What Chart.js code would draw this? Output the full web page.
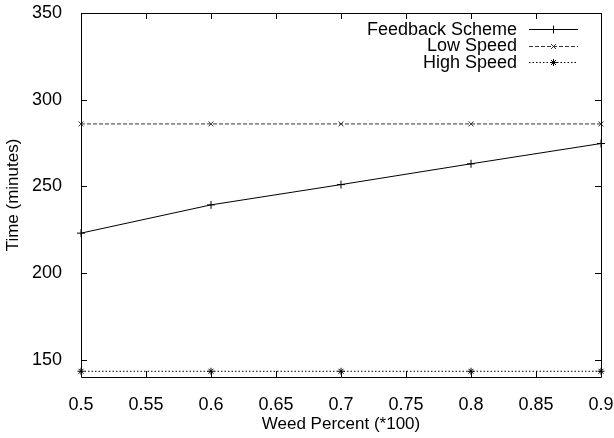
<!DOCTYPE html>
<html>
<head>
<meta charset="utf-8">
<script src="https://cdn.jsdelivr.net/npm/chart.js@4"></script>
<style>
  body { margin: 0; background: #fff; }
  canvas { display: block; }
</style>
</head>
<body>
<canvas id="chart" width="614" height="438"></canvas>
<script>
// values
const weedPercent = [0.5, 0.6, 0.7, 0.8, 0.9];
const feedbackScheme = [223, 239.3, 251, 263, 274.7];
const lowSpeed = [286, 286, 286, 286, 286];
const highSpeed = [143.3, 143.3, 143.3, 143.3, 143.3];
const xTicks = [0.5, 0.55, 0.6, 0.65, 0.7, 0.75, 0.8, 0.85, 0.9];
const yTicks = [150, 200, 250, 300, 350];

const FONT = "'Liberation Sans', Arial, Helvetica, sans-serif";

const toPoints = ys => ys.map((y, i) => ({ x: weedPercent[i], y: y }));

// gnuplot-like frame: inward ticks on all four sides
const framePlugin = {
    id: "frame",
    afterDraw(chart) {
        const ctx = chart.ctx;
        const a = chart.chartArea;
        const xs = chart.scales.x, ys = chart.scales.y;
        const len = 6;
        ctx.save();
        ctx.strokeStyle = "#000";
        ctx.lineWidth = 1;
        ctx.beginPath();
        ctx.rect(a.left + 0.5, a.top + 0.5, a.right - a.left, a.bottom - a.top);
        xs.ticks.forEach(t => {
            const px = Math.round(xs.getPixelForValue(t.value)) + 0.5;
            ctx.moveTo(px, a.bottom); ctx.lineTo(px, a.bottom - len);
            ctx.moveTo(px, a.top); ctx.lineTo(px, a.top + len);
        });
        ys.ticks.forEach(t => {
            const py = Math.round(ys.getPixelForValue(t.value)) + 0.5;
            ctx.moveTo(a.left, py); ctx.lineTo(a.left + len, py);
            ctx.moveTo(a.right, py); ctx.lineTo(a.right - len, py);
        });
        ctx.stroke();
        ctx.restore();
    }
};

// key in the top right corner, text right-aligned before the sample
const keyPlugin = {
    id: "key",
    afterDraw(chart) {
        const ctx = chart.ctx;
        const a = chart.chartArea;
        const textRight = a.right - 84;
        const sx0 = a.right - 72, sx1 = a.right - 23;
        ctx.save();
        ctx.font = "18px " + FONT;
        ctx.textAlign = "right";
        ctx.textBaseline = "middle";
        chart.data.datasets.forEach((ds, i) => {
            const y = a.top + 16 + i * 16.5;
            ctx.fillStyle = "#000";
            ctx.fillText(ds.label, textRight, y + 1);
            ctx.strokeStyle = ds.borderColor;
            ctx.lineWidth = 1;
            ctx.setLineDash(ds.borderDash || []);
            ctx.beginPath();
            ctx.moveTo(sx0, Math.round(y) + 0.5);
            ctx.lineTo(sx1, Math.round(y) + 0.5);
            ctx.stroke();
            ctx.setLineDash([]);
            Chart.helpers.drawPoint(ctx, {
                pointStyle: ds.pointStyle,
                radius: ds.pointRadius,
                borderWidth: 1
            }, (sx0 + sx1) / 2, Math.round(y) + 0.5);
        });
        ctx.restore();
    }
};

new Chart(document.getElementById("chart").getContext("2d"), {
    type: "line",
    data: {
        datasets: [
            {
                label: "Feedback Scheme",
                data: toPoints(feedbackScheme),
                borderColor: "#000",
                backgroundColor: "#000",
                borderWidth: 1,
                pointStyle: "cross",
                pointRadius: 4,
                pointBorderWidth: 1,
                clip: false,
            },
            {
                label: "Low Speed",
                data: toPoints(lowSpeed),
                borderColor: "#333",
                backgroundColor: "#333",
                borderWidth: 1,
                borderDash: [4, 2],
                pointStyle: "crossRot",
                pointRadius: 3.5,
                pointBorderWidth: 1,
                clip: false,
            },
            {
                label: "High Speed",
                data: toPoints(highSpeed),
                borderColor: "#000",
                backgroundColor: "#000",
                borderWidth: 1,
                borderDash: [1.5, 2],
                pointStyle: "star",
                pointRadius: 3.5,
                pointBorderWidth: 1,
                clip: false,
            },
        ],
    },
    options: {
        responsive: false,
        animation: false,
        layout: { padding: { top: 13, right: 13, left: 0, bottom: 0 } },
        plugins: {
            legend: { display: false },
            tooltip: { enabled: false },
        },
        scales: {
            x: {
                type: "linear",
                min: 0.5,
                max: 0.9,
                afterBuildTicks: s => { s.ticks = xTicks.map(v => ({ value: v })); },
                afterFit: s => {
                    s.height = 61;
                    s.paddingLeft = 0;
                    s.paddingRight = 0;
                },
                grid: { display: false },
                border: { display: false },
                ticks: {
                    color: "#000",
                    font: { family: FONT, size: 18 },
                    padding: 9,
                    maxRotation: 0,
                    autoSkip: false,
                    callback: v => String(+v.toFixed(2)),
                },
                title: {
                    display: true,
                    text: "Weed Percent (*100)",
                    color: "#000",
                    font: { family: FONT, size: 17 },
                    padding: { top: 0, bottom: 3 },
                },
            },
            y: {
                min: 140,
                max: 350,
                afterBuildTicks: s => { s.ticks = yTicks.map(v => ({ value: v })); },
                afterFit: s => {
                    s.width = 81;
                    s.paddingTop = 0;
                    s.paddingBottom = 0;
                },
                grid: { display: false },
                border: { display: false },
                ticks: {
                    color: "#000",
                    font: { family: FONT, size: 18 },
                    padding: 11,
                },
                title: {
                    display: true,
                    text: "Time (minutes)",
                    color: "#000",
                    font: { family: FONT, size: 17 },
                    padding: { top: 3, bottom: 0 },
                },
            },
        },
    },
    plugins: [framePlugin, keyPlugin],
});
</script>
</body>
</html>
